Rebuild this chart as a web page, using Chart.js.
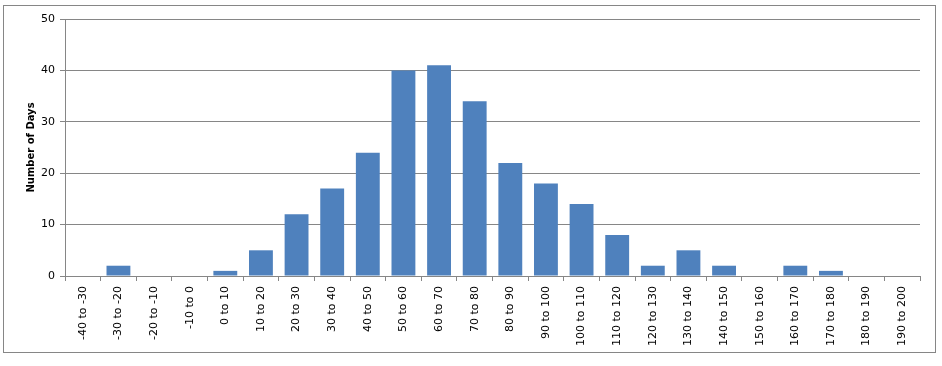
<!DOCTYPE html>
<html>
<head>
<meta charset="utf-8">
<script src="https://cdn.jsdelivr.net/npm/chart.js@4.4.0/dist/chart.umd.min.js"></script>
<style>
html, body { margin: 0; padding: 0; background: #fff; }
#wrap { position: relative; width: 942px; height: 366px; }
</style>
</head>
<body>
<div id="wrap"><canvas id="chart_1"></canvas></div>
<script>
"use strict";
var categories = ["-40 to -30", "-30 to -20", "-20 to -10", "-10 to 0", "0 to 10", "10 to 20", "20 to 30", "30 to 40",
    "40 to 50", "50 to 60", "60 to 70", "70 to 80", "80 to 90", "90 to 100", "100 to 110", "110 to 120",
    "120 to 130", "130 to 140", "140 to 150", "150 to 160", "160 to 170", "170 to 180", "180 to 190", "190 to 200"];
var days = [0, 2, 0, 0, 1, 5, 12, 17, 24, 40, 41, 34, 22, 18, 14, 8, 2, 5, 2, 0, 2, 1, 0, 0];
var yTicks = [0, 10, 20, 30, 40, 50];

var lineGray = "#868686";

// outer chart frame, like the Excel chart border
var frame = {
    id: "frame",
    beforeDraw: function(c) {
        var ctx = c.ctx;
        ctx.save();
        ctx.fillStyle = "#fff";
        ctx.fillRect(0, 0, c.width, c.height);
        ctx.strokeStyle = lineGray;
        ctx.lineWidth = 1;
        ctx.strokeRect(3.5, 5.5, 932, 347);
        ctx.restore();
    }
};

new Chart(document.getElementById("chart_1"), {
    type: "bar",
    data: {
        labels: categories,
        datasets: [{
            label: "Number of Days",
            data: days,
            backgroundColor: "#4F81BD",
            borderWidth: 0,
            barPercentage: 0.67,
            categoryPercentage: 1
        }]
    },
    plugins: [frame],
    options: {
        responsive: true,
        maintainAspectRatio: false,
        animation: false,
        layout: { padding: { top: 19, right: 22, left: 0, bottom: 0 } },
        plugins: {
            legend: { display: false },
            tooltip: { enabled: false }
        },
        scales: {
            x: {
                offset: true,
                afterFit: function(s) { s.height = 90; },
                grid: {
                    offset: true,
                    drawOnChartArea: false,
                    drawTicks: true,
                    tickLength: 5,
                    color: lineGray
                },
                border: { color: lineGray },
                ticks: {
                    autoSkip: false,
                    maxRotation: 90,
                    minRotation: 90,
                    padding: 5,
                    color: "#000",
                    font: { family: "'DejaVu Sans', Verdana, sans-serif", size: 11 }
                }
            },
            y: {
                min: 0,
                max: 50,
                afterFit: function(s) { s.width = 65; },
                afterBuildTicks: function(s) { s.ticks = yTicks.map(function(v) { return { value: v }; }); },
                grid: {
                    color: lineGray,
                    tickLength: 5
                },
                border: { color: lineGray },
                title: {
                    display: true,
                    text: "Number of Days",
                    color: "#000",
                    padding: { top: 25, bottom: 0 },
                    font: { family: "'DejaVu Sans', Verdana, sans-serif", size: 10, weight: "bold" }
                },
                ticks: {
                    padding: 5,
                    color: "#000",
                    font: { family: "'DejaVu Sans', Verdana, sans-serif", size: 11 }
                }
            }
        }
    }
});
</script>
</body>
</html>
